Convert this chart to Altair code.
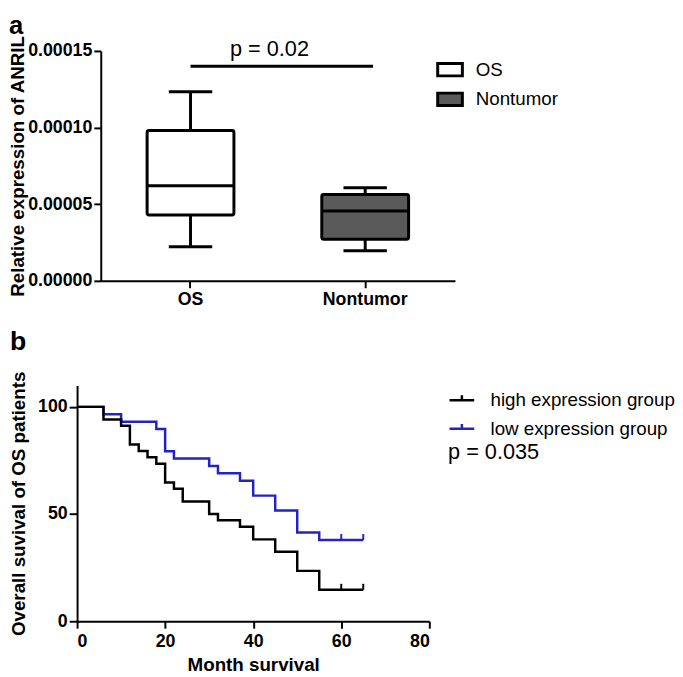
import altair as alt
import pandas as pd

FONT = "Liberation Sans"

# ---------- Panel a: box plot summary ----------
groups = ["OS", "Nontumor"]
box_min = [0.0000222, 0.0000196]
box_q1 = [0.0000430, 0.0000272]
box_median = [0.0000620, 0.0000456]
box_q3 = [0.0000981, 0.0000563]
box_max = [0.0001234, 0.0000608]
box_fill = ["#ffffff", "#5a5a5a"]
y_ticks_a = [0.0, 0.00005, 0.00010, 0.00015]
sig_label_a = "p = 0.02"
sig_line_y = 0.000140
sig_text_y = 0.000151

# ---------- Panel b: Kaplan-Meier curves ----------
series_names = ["high expression group", "low expression group"]
series_colors = ["#000000", "#2323c0"]
high_months = [0, 6, 10, 12, 14, 16, 18, 20, 22, 24, 30, 32, 37, 40, 45, 50, 55, 65]
high_surv = [100, 94.1, 91.2, 82.4, 79.4, 76.5, 73.5, 64.7, 61.8, 55.9, 50.0, 47.1, 44.1, 38.2, 32.4, 23.5, 14.7, 14.7]
low_months = [0, 6, 10, 18, 20, 22, 30, 32, 37, 40, 45, 50, 55, 65]
low_surv = [100, 96.6, 93.1, 89.7, 79.3, 75.9, 72.4, 69.0, 65.5, 58.6, 51.7, 41.4, 37.9, 37.9]
censor_months = [60, 65]
high_censor = [14.7, 14.7]
low_censor = [37.9, 37.9]
x_ticks_b = [0, 20, 40, 60, 80]
y_ticks_b = [0, 50, 100]
sig_label_b = "p = 0.035"

# Panel a's y axis sits this many pixels to the right of panel b's y axis
A_SHIFT = 24

# ================= Panel a =================
box_df = pd.DataFrame({
    "group": groups, "min": box_min, "q1": box_q1, "median": box_median,
    "q3": box_q3, "max": box_max,
})
sig_df = pd.DataFrame({
    "group": [groups[0]], "group2": [groups[1]],
    "yline": [sig_line_y], "ytext": [sig_text_y], "label": [sig_label_a],
})

A_W = 359
x_a = alt.X(
    "group:N", sort=groups,
    scale=alt.Scale(domain=groups, range=[A_SHIFT, A_SHIFT + A_W],
                    paddingInner=0.5, paddingOuter=0.264),
    axis=alt.Axis(title=None, labelAngle=0, labelPadding=3),
)
y_scale_a = alt.Scale(domain=[0, 0.00015], nice=False, zero=True)
y_axis_a = alt.Axis(values=y_ticks_a, format=".5f",
                    title="Relative expression of ANRIL",
                    titlePadding=0, labelPadding=2, offset=-A_SHIFT)


def ya(field):
    return alt.Y(field, scale=y_scale_a, axis=y_axis_a)


base_a = alt.Chart(box_df)
whisk_lo = base_a.mark_rule(strokeWidth=3, color="black").encode(
    x=x_a, y=ya("min:Q"), y2="q1:Q")
whisk_hi = base_a.mark_rule(strokeWidth=3, color="black").encode(
    x=x_a, y=ya("q3:Q"), y2="max:Q")
cap_lo = base_a.mark_tick(size=44, thickness=3, color="black", opacity=1).encode(
    x=x_a, y=ya("min:Q"))
cap_hi = base_a.mark_tick(size=44, thickness=3, color="black", opacity=1).encode(
    x=x_a, y=ya("max:Q"))
boxes = base_a.mark_bar(size=88, stroke="black", strokeWidth=3, cornerRadius=2, opacity=1).encode(
    x=x_a, y=ya("q1:Q"), y2="q3:Q",
    fill=alt.Fill("group:N", scale=alt.Scale(domain=groups, range=box_fill),
                  legend=alt.Legend(
                      orient="none", legendX=364, legendY=5, title=None,
                      symbolType="M-1,-0.5L1,-0.5L1,0.5L-1,0.5Z",
                      symbolSize=625, symbolStrokeColor="black",
                      symbolStrokeWidth=3, labelFontSize=19, labelFont=FONT,
                      labelFontWeight="normal", labelColor="black",
                      labelOffset=12, rowPadding=3, padding=0, labelLimit=0)),
)
medians = base_a.mark_tick(size=88, thickness=3, color="black", opacity=1).encode(
    x=x_a, y=ya("median:Q"))
sig_line = alt.Chart(sig_df).mark_rule(strokeWidth=3, color="black", x2Offset=8).encode(
    x=x_a, x2="group2:N", y=ya("yline:Q"))
sig_text = alt.Chart(sig_df).mark_text(
    fontSize=22, font=FONT, color="black", dx=80, baseline="middle").encode(
    x=x_a, y=ya("ytext:Q"), text="label:N")

panel_a = alt.layer(whisk_lo, whisk_hi, cap_lo, cap_hi, boxes, medians, sig_line, sig_text).properties(
    width=A_SHIFT + A_W, height=233,
    title=alt.TitleParams("a", anchor="start", fontSize=26, fontWeight="bold",
                          font=FONT, color="black", offset=-4),
)

# ================= Panel b =================
high_df = pd.DataFrame({"month": high_months, "surv": high_surv, "series": series_names[0]})
low_df = pd.DataFrame({"month": low_months, "surv": low_surv, "series": series_names[1]})
cens_df = pd.DataFrame({
    "month": censor_months + censor_months,
    "surv": high_censor + low_censor,
    "series": [series_names[0]] * len(censor_months) + [series_names[1]] * len(censor_months),
})

x_b = alt.X("month:Q", scale=alt.Scale(domain=[0, 80], nice=False),
            axis=alt.Axis(values=x_ticks_b, title="Month survival",
                          labelPadding=5, titlePadding=5))
y_b = alt.Y("surv:Q", scale=alt.Scale(domain=[0, 110], nice=False),
            axis=alt.Axis(values=y_ticks_b, title="Overall suvival of OS patients",
                          tickSize=8, labelPadding=2, titlePadding=9))
color_b = alt.Color(
    "series:N", scale=alt.Scale(domain=series_names, range=series_colors),
    legend=alt.Legend(
        orient="none", legendX=376, legendY=340, title=sig_label_b,
        titleOrient="bottom", titleFontSize=22, titleFontWeight="normal",
        titleFont=FONT, titleColor="black", titlePadding=4,
        symbolType="M-1,0L1,0M0,0L0,-0.4", symbolSize=625,
        symbolStrokeWidth=2.5, symbolFillColor="transparent",
        labelFontSize=19, labelFont=FONT, labelFontWeight="normal",
        labelColor="black", labelOffset=15, rowPadding=5, padding=0,
        labelLimit=0),
)

line_low = alt.Chart(low_df).mark_line(interpolate="step-after", strokeWidth=2.5).encode(
    x=x_b, y=y_b, color=color_b)
line_high = alt.Chart(high_df).mark_line(interpolate="step-after", strokeWidth=2.5).encode(
    x=x_b, y=y_b, color=color_b)
cens = alt.Chart(cens_df).mark_point(
    shape="M0,0L0,-1", size=144, filled=False, strokeWidth=2, opacity=1).encode(
    x=x_b, y=y_b, color=color_b)

panel_b = alt.layer(line_low, line_high, cens).properties(
    width=357, height=239,
    title=alt.TitleParams("b", anchor="start", fontSize=27, fontWeight="bold",
                          font=FONT, color="black", offset=15),
)

chart = alt.ConcatChart(
    concat=[panel_a, panel_b], columns=1, spacing=20, padding=0,
).configure_view(
    stroke=None
).configure_axis(
    domainColor="black", domainWidth=2, tickColor="black", tickWidth=2, tickSize=7,
    labelFont=FONT, labelFontSize=18, labelFontWeight="bold", labelColor="black",
    titleFont=FONT, titleFontSize=19, titleFontWeight="bold", titleColor="black",
    grid=False,
).configure_title(anchor="start")

chart.save("out.html", embed_options={"renderer": "svg", "actions": False})
